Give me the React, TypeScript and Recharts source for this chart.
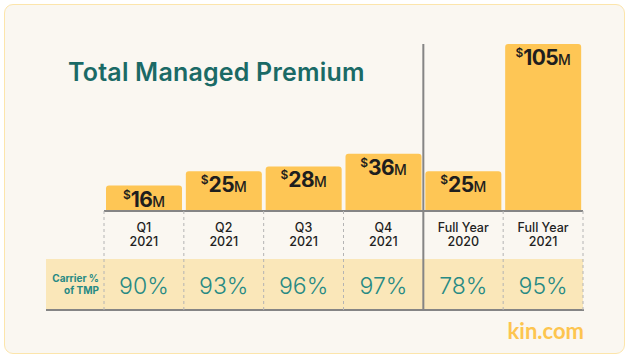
import { BarChart, Bar, XAxis, YAxis, LabelList } from 'recharts'

// ─── Data ────────────────────────────────────────────────────────────────────

const periodName = ['Q1', 'Q2', 'Q3', 'Q4', 'Full Year', 'Full Year']
const periodYear = ['2021', '2021', '2021', '2021', '2020', '2021']
const premiumM = [16, 25, 28, 36, 25, 105]
const carrierPct = [90, 93, 96, 97, 78, 95]

const data = periodName.map((name, i) => ({
  period: `${name} ${periodYear[i]}`,
  premium: premiumM[i],
  carrier: carrierPct[i],
}))

// ─── Layout ──────────────────────────────────────────────────────────────────

const W = 630
const H = 360
const PLOT_LEFT = 104
const PLOT_RIGHT = 583
const BAND = (PLOT_RIGHT - PLOT_LEFT) / data.length
const BASE_Y = 211
const DIVIDER_TOP = 44
const TABLE_LEFT = 46
const ROW_TOP = 259
const ROW_BOTTOM = 310
const DIVIDER_INDEX = 4

const BAR_COLOR = '#fec655'
const ROW_COLOR = '#fae7b9'
const TEAL = '#278a84'
const TITLE_TEAL = '#1a6a66'
const LINE_GRAY = '#858585'
const DASH_GRAY = '#b4b4b4'
const FONT = 'Inter, "Noto Sans", sans-serif'

// ─── Bar value label ─────────────────────────────────────────────────────────

function PremiumLabel(props: any) {
  const { x, y, width, value } = props
  return (
    <text
      x={Number(x) + Number(width) / 2}
      y={Number(y) + 21}
      textAnchor="middle"
      fill="#1e1e1e"
      fontFamily={FONT}
    >
      <tspan fontSize={12} fontWeight={600} dy={-8}>$</tspan>
      <tspan fontSize={21} fontWeight={700} dy={8} letterSpacing={-0.6}>{value}</tspan>
      <tspan fontSize={14} fontWeight={500}>M</tspan>
    </text>
  )
}

// ─── Table under the axis (period header + carrier % row) ───────────────────

function TableTick(props: any) {
  const { x } = props
  const index: number = props.index ?? props.payload?.index ?? 0
  const left = x - BAND / 2
  const right = x + BAND / 2
  const isDivider = index === DIVIDER_INDEX

  return (
    <g fontFamily={FONT}>
      {index === 0 && (
        <>
          <rect
            x={TABLE_LEFT}
            y={ROW_TOP}
            width={PLOT_RIGHT - TABLE_LEFT}
            height={ROW_BOTTOM - ROW_TOP}
            fill={ROW_COLOR}
          />
          <line x1={TABLE_LEFT} x2={PLOT_RIGHT + 1} y1={ROW_BOTTOM} y2={ROW_BOTTOM} stroke={LINE_GRAY} strokeWidth={2} />
          <text x={99} y={282} textAnchor="end" fontSize={10} fontWeight={700} fill={TEAL}>
            Carrier %
          </text>
          <text x={99} y={293.5} textAnchor="end" fontSize={10} fontWeight={700} fill={TEAL}>
            of TMP
          </text>
        </>
      )}
      <line
        x1={left}
        x2={left}
        y1={isDivider ? DIVIDER_TOP : BASE_Y}
        y2={ROW_BOTTOM}
        stroke={isDivider ? LINE_GRAY : DASH_GRAY}
        strokeWidth={isDivider ? 2 : 1}
        strokeDasharray={isDivider ? undefined : '3 3'}
      />
      {index === data.length - 1 && (
        <line x1={right} x2={right} y1={BASE_Y} y2={ROW_BOTTOM} stroke={DASH_GRAY} strokeDasharray="3 3" />
      )}
      <text x={x} y={232} textAnchor="middle" fontSize={12.5} fontWeight={500} fill="#1f1f1f">
        {periodName[index]}
      </text>
      <text x={x} y={246} textAnchor="middle" fontSize={12.5} fontWeight={500} fill="#1f1f1f">
        {periodYear[index]}
      </text>
      <text x={x} y={293.5} textAnchor="middle" fontSize={23} fontWeight={300} fill={TEAL}>
        {`${carrierPct[index]}%`}
      </text>
    </g>
  )
}

// ─── App ─────────────────────────────────────────────────────────────────────

export default function App() {
  return (
    <div style={{ position: 'relative', width: W, height: H, background: '#ffffff', overflow: 'hidden' }}>
      <style>{'body{margin:0}'}</style>
      <div
        style={{
          position: 'absolute',
          left: 4,
          top: 4,
          width: 621,
          height: 350,
          boxSizing: 'border-box',
          border: '1.5px solid #fce5ab',
          borderRadius: 9,
          background: '#faf7f1',
        }}
      />
      <div
        style={{
          position: 'absolute',
          left: 68,
          top: 60,
          fontFamily: FONT,
          fontSize: 25,
          lineHeight: '25px',
          fontWeight: 600,
          color: TITLE_TEAL,
          letterSpacing: 0.2,
          whiteSpace: 'nowrap',
        }}
      >
        Total Managed Premium
      </div>
      <div
        style={{
          position: 'absolute',
          right: W - 584,
          top: 320,
          fontFamily: 'Lato, "Open Sans", sans-serif',
          fontSize: 22,
          lineHeight: '22px',
          fontWeight: 700,
          color: '#fdc54f',
          whiteSpace: 'nowrap',
        }}
      >
        kin.com
      </div>
      <div style={{ position: 'absolute', left: 0, top: 0 }}>
        <BarChart
          width={W}
          height={H}
          data={data}
          margin={{ top: 20, right: W - PLOT_RIGHT, bottom: H - BASE_Y - 30, left: PLOT_LEFT }}
          barCategoryGap={2}
        >
          <YAxis hide domain={[0, 120]} />
          <XAxis
            dataKey="period"
            height={30}
            interval={0}
            tickLine={false}
            axisLine={{ stroke: LINE_GRAY, strokeWidth: 2 }}
            tick={TableTick}
          />
          <Bar dataKey="premium" fill={BAR_COLOR} radius={[3, 3, 0, 0]} isAnimationActive={false}>
            <LabelList dataKey="premium" content={PremiumLabel} />
          </Bar>
        </BarChart>
      </div>
    </div>
  )
}
